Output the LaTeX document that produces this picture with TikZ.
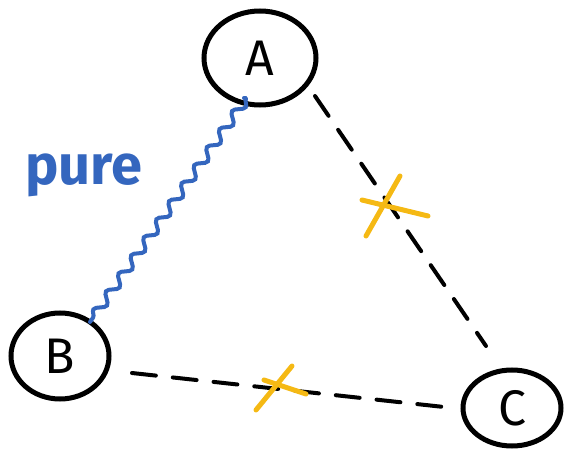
\documentclass[tikz,border=0pt]{standalone}
\usepackage{fontspec}
\setmainfont{Fira Sans}
\usetikzlibrary{decorations.pathmorphing,shapes.geometric}
\definecolor{pureblue}{HTML}{3466BE}
\definecolor{crossyellow}{HTML}{F5B914}
\tikzset{
  vertex/.style={draw=black, line width=5pt, ellipse, inner sep=0pt},
  vlabel/.style={font=\fontsize{50}{50}\selectfont},
  broken/.style={draw=black, line width=4pt, dash pattern=on 24pt off 17pt, line cap=round},
  pureedge/.style={draw=pureblue, line width=4pt, line cap=round,
    decorate, decoration={snake, amplitude=4.5pt, segment length=22pt}},
  crossmark/.style={draw=crossyellow, line width=5pt, line cap=round},
}
\begin{document}
\begin{tikzpicture}[x=1pt, y=-1pt]
  \useasboundingbox (0,0) rectangle (565,449);
  % three vertices
  \node[vertex, minimum width=112pt, minimum height=94pt] (A) at (260,58) {};
  \node[vlabel] (la) at (A) {A};
  \node[vertex, minimum width=98pt, minimum height=86pt] (B) at (60,356) {};
  \node[vlabel] (lb) at (B) {B};
  \node[vertex, minimum width=98pt, minimum height=76pt] (C) at (512,408) {};
  \node[vlabel] (lc) at (C) {C};
  % entangled link A--B
  \coordinate (pa) at (246,99);
  \coordinate (pb) at (90,322);
  \draw[pureblue, line width=4pt, line cap=round] (244,98) to[out=10, in=80] (pa);
  \draw[pureedge] (pa) -- (pb);
  \node[text=pureblue, font=\fontsize{56}{56}\selectfont\bfseries, anchor=west] (pure) at (22,175) {pure};
  % broken links
  \coordinate (ac1) at (315,96);
  \coordinate (ac2) at (486,346);
  \draw[broken] (ac1) -- (ac2);
  \coordinate (bc1) at (132,373);
  \coordinate (bc2) at (444,407);
  \draw[broken] (bc1) -- (bc2);
  % crosses on the broken links
  \draw[crossmark] (362,200) -- (428,216);
  \draw[crossmark] (400,176) -- (366,236);
  \draw[crossmark] (264,380) -- (306,394);
  \draw[crossmark] (292,366) -- (256,410);
\end{tikzpicture}
\end{document}
